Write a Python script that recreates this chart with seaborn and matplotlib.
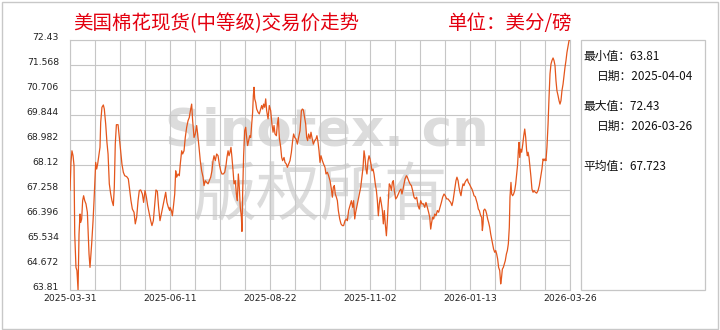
import matplotlib
matplotlib.use("Agg")
import matplotlib.pyplot as plt
import seaborn as sns
import pandas as pd
from matplotlib.patches import Rectangle

# ---------------- data ----------------
start_date = "2025-03-31"
end_date = "2026-03-26"

day_offsets = [
    0, 0.7, 1.4, 2.2, 2.9, 3.4, 4.3, 5.0, 5.8, 6.5, 7.2, 7.7, 8.4, 9.1, 9.8, 10.6, 11.5, 12.5, 13.0, 13.7,
    14.4, 14.9, 15.6, 16.6, 17.3, 18.0, 18.5, 19.2, 19.9, 20.9, 21.6, 22.1, 23.0, 24.0, 24.7, 25.7, 26.6,
    27.4, 28.3, 29.3, 30.2, 31.2, 31.9, 32.6, 33.4, 34.6, 35.5, 36.5, 37.4, 38.4, 39.4, 40.8, 42.0, 43.0,
    43.9, 44.9, 46.1, 47.0, 48.0, 49.0, 49.9, 50.9, 52.1, 53.0, 54.0, 55.0, 55.9, 56.9, 58.1, 59.0, 60.0,
    61.0, 61.9, 62.9, 63.8, 64.8, 66.0, 67.2, 68.2, 68.9, 69.8, 70.8, 71.8,
    72.0, 73.0, 73.7, 74.4, 75.4, 76.1, 76.8, 77.8, 78.7, 79.4, 80.4, 81.1, 82.1, 83.0, 84.0, 85.0, 85.9,
    86.9, 87.6, 88.3, 89.3, 90.2, 91.2, 91.9, 92.9, 93.8, 94.8, 95.8, 96.5, 97.4, 98.4, 99.4, 100.3, 101.3,
    102.2, 103.0, 103.7, 104.6, 105.6, 106.6, 107.5, 108.5, 109.4, 110.4, 111.4, 112.3, 113.0, 113.8, 114.5,
    115.2, 115.9, 116.6, 117.4, 118.1, 119.0, 119.8, 120.5, 121.2, 121.9, 122.6, 123.4, 123.8, 124.3, 125.0,
    125.8, 126.5, 127.2, 127.9, 128.6, 129.4, 130.1, 130.8, 131.5, 132.0, 132.5, 133.0, 133.7, 134.4, 135.4,
    136.3, 137.3, 138.0, 138.7, 139.4, 140.2, 140.9, 141.6, 142.6, 143.5, 144.5,
    145.4, 146.2, 146.9, 147.6, 148.6, 149.3, 150.0, 150.7, 151.7, 152.4, 153.1, 154.1, 154.8, 155.8, 156.5,
    157.4, 158.4, 159.4, 160.3, 161.0, 161.8, 162.7, 163.7, 164.6, 165.6, 166.6, 167.3, 168.0, 168.7, 169.7,
    170.4, 171.1, 171.8, 172.8, 173.5, 174.2, 175.2, 176.2, 177.1, 177.8, 178.6, 179.3, 180.0, 180.7, 181.7,
    182.6, 183.6, 184.3, 185.3, 186.2, 187.2, 188.2, 188.9, 189.6, 190.3, 191.0, 191.8, 192.5, 193.2, 194.2,
    195.1, 196.1, 197.0, 198.0, 199.0, 199.7, 200.6, 201.6, 202.6, 203.5, 204.2, 205.0, 205.7, 206.4, 207.4,
    208.3, 209.3, 210.2, 211.0, 211.7, 212.4, 213.1, 213.8, 214.6, 215.3,
    216.0, 216.7, 217.4, 218.2, 218.9, 219.8, 220.6, 221.3, 222.0, 222.7, 223.4, 224.2, 224.9, 225.6, 226.3,
    227.0, 227.8, 228.5, 229.2, 229.9, 230.6, 231.4, 232.1, 232.8, 233.5, 234.5, 235.4, 236.4, 237.4, 238.3,
    239.0, 239.8, 240.5, 241.2, 242.2, 242.9, 243.8, 244.8, 245.8, 246.7, 247.7, 248.6, 249.6, 250.6, 251.5,
    252.5, 253.4, 254.4, 255.4, 256.3, 257.3, 258.2, 259.0, 259.7, 260.4, 261.1, 261.8, 262.6, 263.5, 264.5,
    265.4, 266.4, 267.4, 268.3, 269.3, 270.2, 271.2, 272.2, 273.1, 274.1, 275.0, 275.8, 276.5, 277.2, 277.9,
    278.6, 279.4, 280.1, 280.8, 281.5, 282.2, 283.0, 283.7, 284.4, 285.1, 286.1, 286.8, 287.5,
    288.7, 289.4, 290.2, 290.9, 291.8, 292.6, 293.3, 294.0, 294.7, 295.7, 296.4, 296.9, 297.4, 297.8, 298.6,
    299.3, 300.0, 300.7, 301.4, 302.2, 302.9, 303.6, 304.3, 305.0, 305.8, 306.5, 307.2, 307.9, 308.6, 309.4,
    310.1, 310.6, 311.3, 312.0, 312.7, 313.4, 314.2, 314.9, 315.6, 316.3, 316.8, 317.5, 318.0, 318.7, 319.4,
    320.2, 320.9, 321.6, 322.3, 322.8, 323.3, 323.8, 324.5, 325.2, 326.0, 326.7, 327.4, 328.1, 328.8, 329.3,
    329.8, 330.5, 331.2, 331.9, 332.6, 333.4, 334.1, 335.0, 336.0, 337.0, 337.9, 338.9, 339.8, 340.6, 341.3,
    342.0, 342.7, 343.4, 344.2, 344.9, 345.6, 346.3, 347.0, 347.8, 348.5, 349.2, 349.9, 350.6, 351.4, 352.1,
    352.8, 353.5, 354.2, 355.0, 355.7, 356.4, 357.1, 357.8, 358.6, 359.3, 360.0,
]

prices = [
    67.24, 68.21, 68.61, 68.44, 68.10, 65.74, 64.59, 64.48, 63.81, 65.74, 66.43, 66.14, 66.26, 66.89, 67.06, 66.89, 66.78, 66.49, 65.86, 65.05,
    64.59, 64.94, 65.40, 66.20, 66.89, 67.70, 68.21, 67.98, 68.15, 68.50, 68.73, 69.59, 70.11, 70.19, 70.05, 69.53, 68.90,
    68.50, 67.47, 67.12, 66.89, 66.72, 67.35, 68.84, 69.51, 69.51, 69.07, 68.56, 68.15, 67.87, 67.75, 67.72, 67.64, 67.24,
    66.89, 66.60, 66.49, 66.09, 66.32, 66.89, 67.24, 67.26, 67.12, 66.83, 67.24, 67.01, 66.72, 66.49, 66.20, 66.03, 66.20,
    66.78, 67.26, 67.21, 66.66, 66.20, 66.49, 66.78, 67.01, 67.18, 66.83, 66.66, 66.55,
    66.66, 66.55, 66.37, 66.66, 67.12, 67.92, 67.70, 67.81, 67.75, 68.15, 68.61, 68.50, 68.61, 69.07, 69.42, 69.65, 69.76,
    70.05, 70.22, 69.65, 69.07, 69.19, 69.48, 69.19, 68.73, 68.27, 67.92, 67.70, 67.41, 67.58, 67.52, 67.47, 67.58, 67.70,
    67.92, 68.27, 68.44, 68.27, 68.50, 68.44, 68.15, 67.92, 67.81, 67.81, 67.87, 68.10, 68.38, 68.61, 68.44,
    68.56, 68.73, 68.38, 67.92, 67.47, 67.58, 67.12, 66.89, 67.81, 67.35, 66.66, 66.32, 65.83, 67.12, 68.44,
    69.30, 69.42, 69.07, 68.79, 68.96, 69.13, 69.07, 69.53, 69.94, 70.51, 70.80, 70.40, 70.28, 70.05, 69.94,
    69.88, 70.05, 70.17, 70.05, 70.22, 70.11, 70.40, 69.99, 69.71, 70.17, 69.99,
    69.53, 69.25, 69.48, 69.19, 69.13, 69.53, 69.76, 69.07, 68.73, 68.38, 68.27, 68.38, 68.21, 68.15, 68.04,
    68.15, 68.27, 68.56, 68.96, 69.19, 69.07, 69.02, 68.84, 69.07, 69.30, 69.99, 70.05, 70.02, 69.82, 69.53,
    69.07, 68.96, 69.19, 69.02, 69.25, 69.07, 68.84, 68.96, 69.02, 69.13, 68.90, 68.61, 68.21, 68.44, 68.27,
    68.15, 68.04, 67.81, 67.87, 67.75, 67.58, 67.29, 67.01, 67.35, 67.41, 67.12, 67.01, 66.89, 66.55, 66.26,
    66.09, 66.03, 66.03, 66.20, 66.26, 66.20, 66.55, 66.72, 66.89, 66.66, 66.89, 66.26, 66.49, 66.66, 66.89,
    67.12, 67.35, 67.70, 68.04, 68.61, 68.38, 67.98, 67.81, 68.27, 68.44,
    68.33, 68.15, 67.92, 67.98, 67.81, 67.47, 67.24, 66.89, 66.37, 66.78, 67.01, 66.78, 66.55, 66.09, 66.55,
    66.09, 65.68, 66.20, 66.89, 67.47, 67.41, 67.24, 67.52, 67.58, 67.24, 66.95, 67.01, 67.12, 67.24, 67.29,
    67.12, 67.29, 67.47, 67.64, 67.75, 67.70, 67.58, 67.47, 67.41, 67.24, 67.01, 66.95, 67.01, 66.72, 66.60,
    66.89, 66.78, 66.78, 66.66, 66.83, 66.66, 66.49, 66.32, 65.91, 66.14, 66.32, 66.26, 66.43, 66.37, 66.55,
    66.49, 66.66, 66.83, 67.01, 67.12, 67.06, 66.95, 66.95, 66.89, 66.83, 66.72, 66.89, 67.12, 67.35, 67.58,
    67.70, 67.58, 67.35, 67.18, 67.06, 67.29, 67.47, 67.41, 67.52, 67.58, 67.64, 67.52, 67.47,
    67.35, 67.29, 67.18, 67.06, 67.03, 66.89, 66.78, 66.60, 66.55, 66.37, 66.32, 65.86, 66.09, 66.55, 66.60,
    66.55, 66.43, 66.26, 66.14, 65.97, 65.74, 65.57, 65.40, 65.22, 65.11, 65.17, 65.05, 64.88, 64.59, 64.48,
    64.02, 64.19, 64.53, 64.59, 64.71, 64.82, 65.05, 65.17, 65.40, 65.97, 67.01, 67.52, 67.12, 67.06, 67.12,
    67.24, 67.47, 67.81, 68.15, 68.61, 68.90, 68.38, 68.67, 68.56, 68.84, 69.13, 69.36, 69.07, 68.61, 68.44,
    68.56, 68.38, 68.04, 67.70, 67.29, 67.18, 67.24, 67.18, 67.15, 67.24, 67.41, 67.70, 67.98, 68.33, 68.27,
    68.33, 68.27, 68.73, 69.53, 70.45, 71.26, 71.60, 71.72, 71.81, 71.72, 71.55, 71.03, 70.68, 70.51, 70.34,
    70.22, 70.34, 70.68, 70.91, 71.20, 71.49, 71.72, 72.00, 72.23, 72.41, 72.43,
]

y_tick_values = [63.81, 64.672, 65.534, 66.396, 67.258, 68.12, 68.982, 69.844, 70.706, 71.568, 72.43]
y_tick_labels = ["63.81", "64.672", "65.534", "66.396", "67.258", "68.12", "68.982",
                 "69.844", "70.706", "71.568", "72.43"]
x_tick_labels = ["2025-03-31", "2025-06-11", "2025-08-22", "2025-11-02", "2026-01-13", "2026-03-26"]
grid_step_days = 18

title = "美国棉花现货(中等级)交易价走势"
unit = "单位：美分/磅"
stat_min = "63.81"
stat_min_date = "2025-04-04"
stat_max = "72.43"
stat_max_date = "2026-03-26"
stat_avg = "67.723"

# ---------------- style ----------------
LINE = "#e4561c"
GRID = "#c6c6c6"
RED = "#e3000f"
WM = "#dcdcdc"

sns.set_theme(style="white")
plt.rcParams["font.family"] = ["Noto Sans CJK SC", "DejaVu Sans"]

W, H = 720, 330
fig = plt.figure(figsize=(W / 100, H / 100), dpi=100)
fig.patch.set_facecolor("white")

ax = fig.add_axes([70 / W, 40 / H, 500 / W, 250 / H])
ax.set_facecolor("white")

base = pd.Timestamp(start_date)
df = pd.DataFrame({
    "date": base + pd.to_timedelta(day_offsets, unit="D"),
    "price": prices,
})

sns.lineplot(data=df, x="date", y="price", ax=ax, color=LINE, linewidth=0.9,
             estimator=None, sort=False, zorder=3)

end = pd.Timestamp(end_date)
ax.set_xlim(base, end)
ax.set_ylim(y_tick_values[0], y_tick_values[-1])

n_steps = int(round((end - base).days / grid_step_days))
grid_dates = [base + pd.Timedelta(days=grid_step_days * i) for i in range(n_steps + 1)]
label_set = set(pd.to_datetime(x_tick_labels))
ax.set_xticks(grid_dates)
ax.set_xticklabels([d.strftime("%Y-%m-%d") if d in label_set else "" for d in grid_dates],
                   fontfamily="DejaVu Sans")
ax.set_yticks(y_tick_values)
ax.set_yticklabels(y_tick_labels, fontfamily="DejaVu Sans")
plt.setp(ax.get_yticklabels(), va="baseline")

ax.set_xlabel("")
ax.set_ylabel("")
ax.grid(True, color=GRID, linewidth=0.8)
ax.set_axisbelow(True)
ax.tick_params(axis="both", length=0, labelsize=6.7, colors="#222222")
ax.tick_params(axis="x", pad=3)
ax.tick_params(axis="y", pad=8)
for s in ax.spines.values():
    s.set_color(GRID)
    s.set_linewidth(0.8)

# watermark
ax.text(327 / W, 1 - 145 / H, "Sinotex. cn", transform=fig.transFigure, ha="center", va="baseline",
        fontsize=37, fontweight="bold", fontfamily="DejaVu Sans", color=WM, zorder=0.3)
ax.text(320 / W, 1 - 197 / H, "版权所有", transform=fig.transFigure, ha="center", va="center",
        fontsize=46, color=WM, zorder=0.3)

# titles
fig.text(73 / W, 1 - 24 / H, title, color=RED, fontsize=14, ha="left", va="center")
fig.text(448 / W, 1 - 24 / H, unit, color=RED, fontsize=14, ha="left", va="center")

# stats panel
fig.patches.append(Rectangle((581 / W, 40 / H), 124 / W, 250 / H, transform=fig.transFigure,
                             fill=False, edgecolor=GRID, linewidth=0.9))
fs = 8.5
fig.text(583 / W, 1 - 56 / H, "最小值：" + stat_min, fontsize=fs, ha="left", va="center", color="#111111")
fig.text(597 / W, 1 - 76 / H, "日期：" + stat_min_date, fontsize=fs, ha="left", va="center", color="#111111")
fig.text(583 / W, 1 - 106 / H, "最大值：" + stat_max, fontsize=fs, ha="left", va="center", color="#111111")
fig.text(597 / W, 1 - 126 / H, "日期：" + stat_max_date, fontsize=fs, ha="left", va="center", color="#111111")
fig.text(583 / W, 1 - 166 / H, "平均值：" + stat_avg, fontsize=fs, ha="left", va="center", color="#111111")

# outer border
fig.patches.append(Rectangle((1.5 / W, 1.5 / H), (W - 4) / W, (H - 3.5) / H, transform=fig.transFigure,
                             fill=False, edgecolor="#c8c8c8", linewidth=1))

fig.savefig("out.png", dpi=100)
